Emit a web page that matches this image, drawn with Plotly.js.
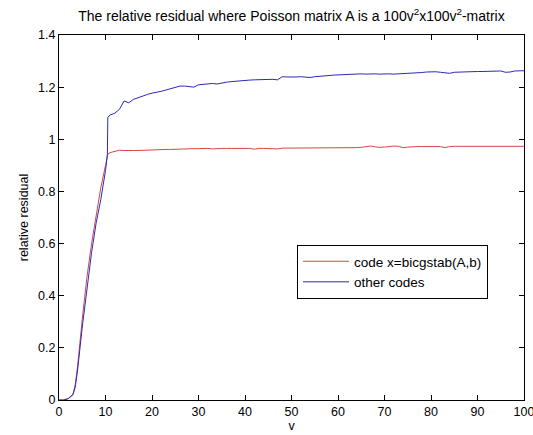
<!DOCTYPE html>
<html>
<head>
<meta charset="utf-8">
<script src="https://cdn.plot.ly/plotly-3.0.1.min.js"></script>
<style>html,body{margin:0;padding:0;background:#fff;}#chart{width:533px;height:435px;}</style>
</head>
<body>
<div id="chart"></div>
<script>
// v values (x axis)
var v = [0,1,2,3,3.5,4,5,6,7,8,9,10,10.4,10.5,
  11,12,13,14,15,16,17,18,19,20,
  21,22,23,24,25,26,27,28,29,30,
  31,32,33,34,35,36,37,38,39,40,
  41,42,43,44,45,46,47,48,49,50,
  51,52,53,54,55,56,57,58,59,60,
  61,62,63,64,65,66,67,68,69,70,
  71,72,73,74,75,76,77,78,79,80,
  81,82,83,84,85,86,87,88,89,90,
  91,92,93,94,95,96,97,98,99,100];

// relative residual, code x=bicgstab(A,b)
var bicgstab = [0,0,0.006,0.022,0.06,0.13,0.31,0.47,0.60,0.71,0.815,0.90,0.94,0.943,
  0.949,0.955,0.958,0.957,0.956,0.957,0.957,0.958,0.959,0.959,
  0.960,0.960,0.961,0.961,0.962,0.962,0.963,0.963,0.964,0.964,
  0.965,0.965,0.963,0.965,0.965,0.965,0.965,0.965,0.965,0.965,
  0.965,0.962,0.965,0.965,0.965,0.965,0.963,0.966,0.966,0.966,
  0.966,0.966,0.967,0.967,0.967,0.967,0.967,0.967,0.968,0.968,
  0.968,0.968,0.968,0.968,0.969,0.971,0.974,0.971,0.969,0.970,
  0.972,0.974,0.973,0.968,0.970,0.972,0.972,0.972,0.972,0.972,
  0.972,0.972,0.968,0.972,0.973,0.973,0.973,0.973,0.973,0.973,
  0.973,0.973,0.973,0.973,0.973,0.973,0.973,0.973,0.973,0.973];

// relative residual, other codes
var otherCodes = [0,0,0.005,0.02,0.05,0.115,0.28,0.43,0.565,0.68,0.77,0.88,0.94,1.085,
  1.093,1.100,1.115,1.147,1.140,1.153,1.160,1.166,1.172,1.177,
  1.180,1.184,1.189,1.195,1.201,1.204,1.204,1.201,1.200,1.209,
  1.211,1.212,1.214,1.212,1.216,1.219,1.221,1.223,1.224,1.226,
  1.227,1.228,1.229,1.230,1.231,1.230,1.228,1.240,1.239,1.238,
  1.239,1.240,1.239,1.237,1.240,1.242,1.244,1.245,1.246,1.247,
  1.248,1.249,1.250,1.250,1.251,1.250,1.251,1.251,1.250,1.251,
  1.251,1.250,1.251,1.251,1.251,1.253,1.255,1.256,1.258,1.259,
  1.259,1.257,1.254,1.253,1.257,1.258,1.258,1.259,1.259,1.260,
  1.260,1.260,1.261,1.261,1.262,1.257,1.258,1.262,1.263,1.263];

var xTicks = [0,10,20,30,40,50,60,70,80,90,100];
var yTicks = [0,0.2,0.4,0.6,0.8,1,1.2,1.4];
var yTickText = ['0','0.2','0.4','0.6','0.8','1','1.2','1.4'];

var font = 'Liberation Sans, Arial, sans-serif';

var traces = [
  {x: v, y: bicgstab, type: 'scatter', mode: 'lines', name: 'code x=bicgstab(A,b)',
   line: {color: '#d84545', width: 1}},
  {x: v, y: otherCodes, type: 'scatter', mode: 'lines', name: 'other codes',
   line: {color: '#2a2ab8', width: 1}}
];

var axisCommon = {
  showgrid: false, zeroline: false, showline: true, linecolor: '#000', linewidth: 1,
  mirror: 'ticks', ticks: 'inside', ticklen: 5, tickcolor: '#000', tickwidth: 1,
  ticklabeloverflow: 'allow',
  tickfont: {family: font, size: 12.5, color: '#000'}
};

var layout = {
  width: 533, height: 435,
  margin: {l: 59, r: 9, t: 35, b: 35},
  paper_bgcolor: '#fff', plot_bgcolor: '#fff',
  font: {family: font, size: 12, color: '#000'},
  title: {
    text: 'The relative residual where Poisson matrix A is a 100v<sup>2</sup>x100v<sup>2</sup>-matrix',
    font: {family: font, size: 14, color: '#000'},
    xref: 'paper', x: 0.5, xanchor: 'center',
    yref: 'container', y: 1 - 16/435, yanchor: 'middle'
  },
  xaxis: Object.assign({}, axisCommon, {
    range: [0, 100], tickmode: 'array', tickvals: xTicks,
    title: {text: 'v', font: {family: font, size: 12.5, color: '#000'}, standoff: 2}
  }),
  yaxis: Object.assign({}, axisCommon, {
    range: [0, 1.4], tickmode: 'array', tickvals: yTicks, ticktext: yTickText,
    title: {text: 'relative residual', font: {family: font, size: 12.5, color: '#000'}, standoff: 6}
  }),
  showlegend: true,
  legend: {
    x: (297 - 59) / 465, xanchor: 'left',
    y: (400 - 245) / 365, yanchor: 'top',
    bgcolor: '#fff', bordercolor: '#000', borderwidth: 1,
    font: {family: font, size: 13.5, color: '#000'},
    itemwidth: 46,
    tracegroupgap: 0
  }
};

Plotly.newPlot('chart', traces, layout, {displayModeBar: false, staticPlot: true});
</script>
</body>
</html>
